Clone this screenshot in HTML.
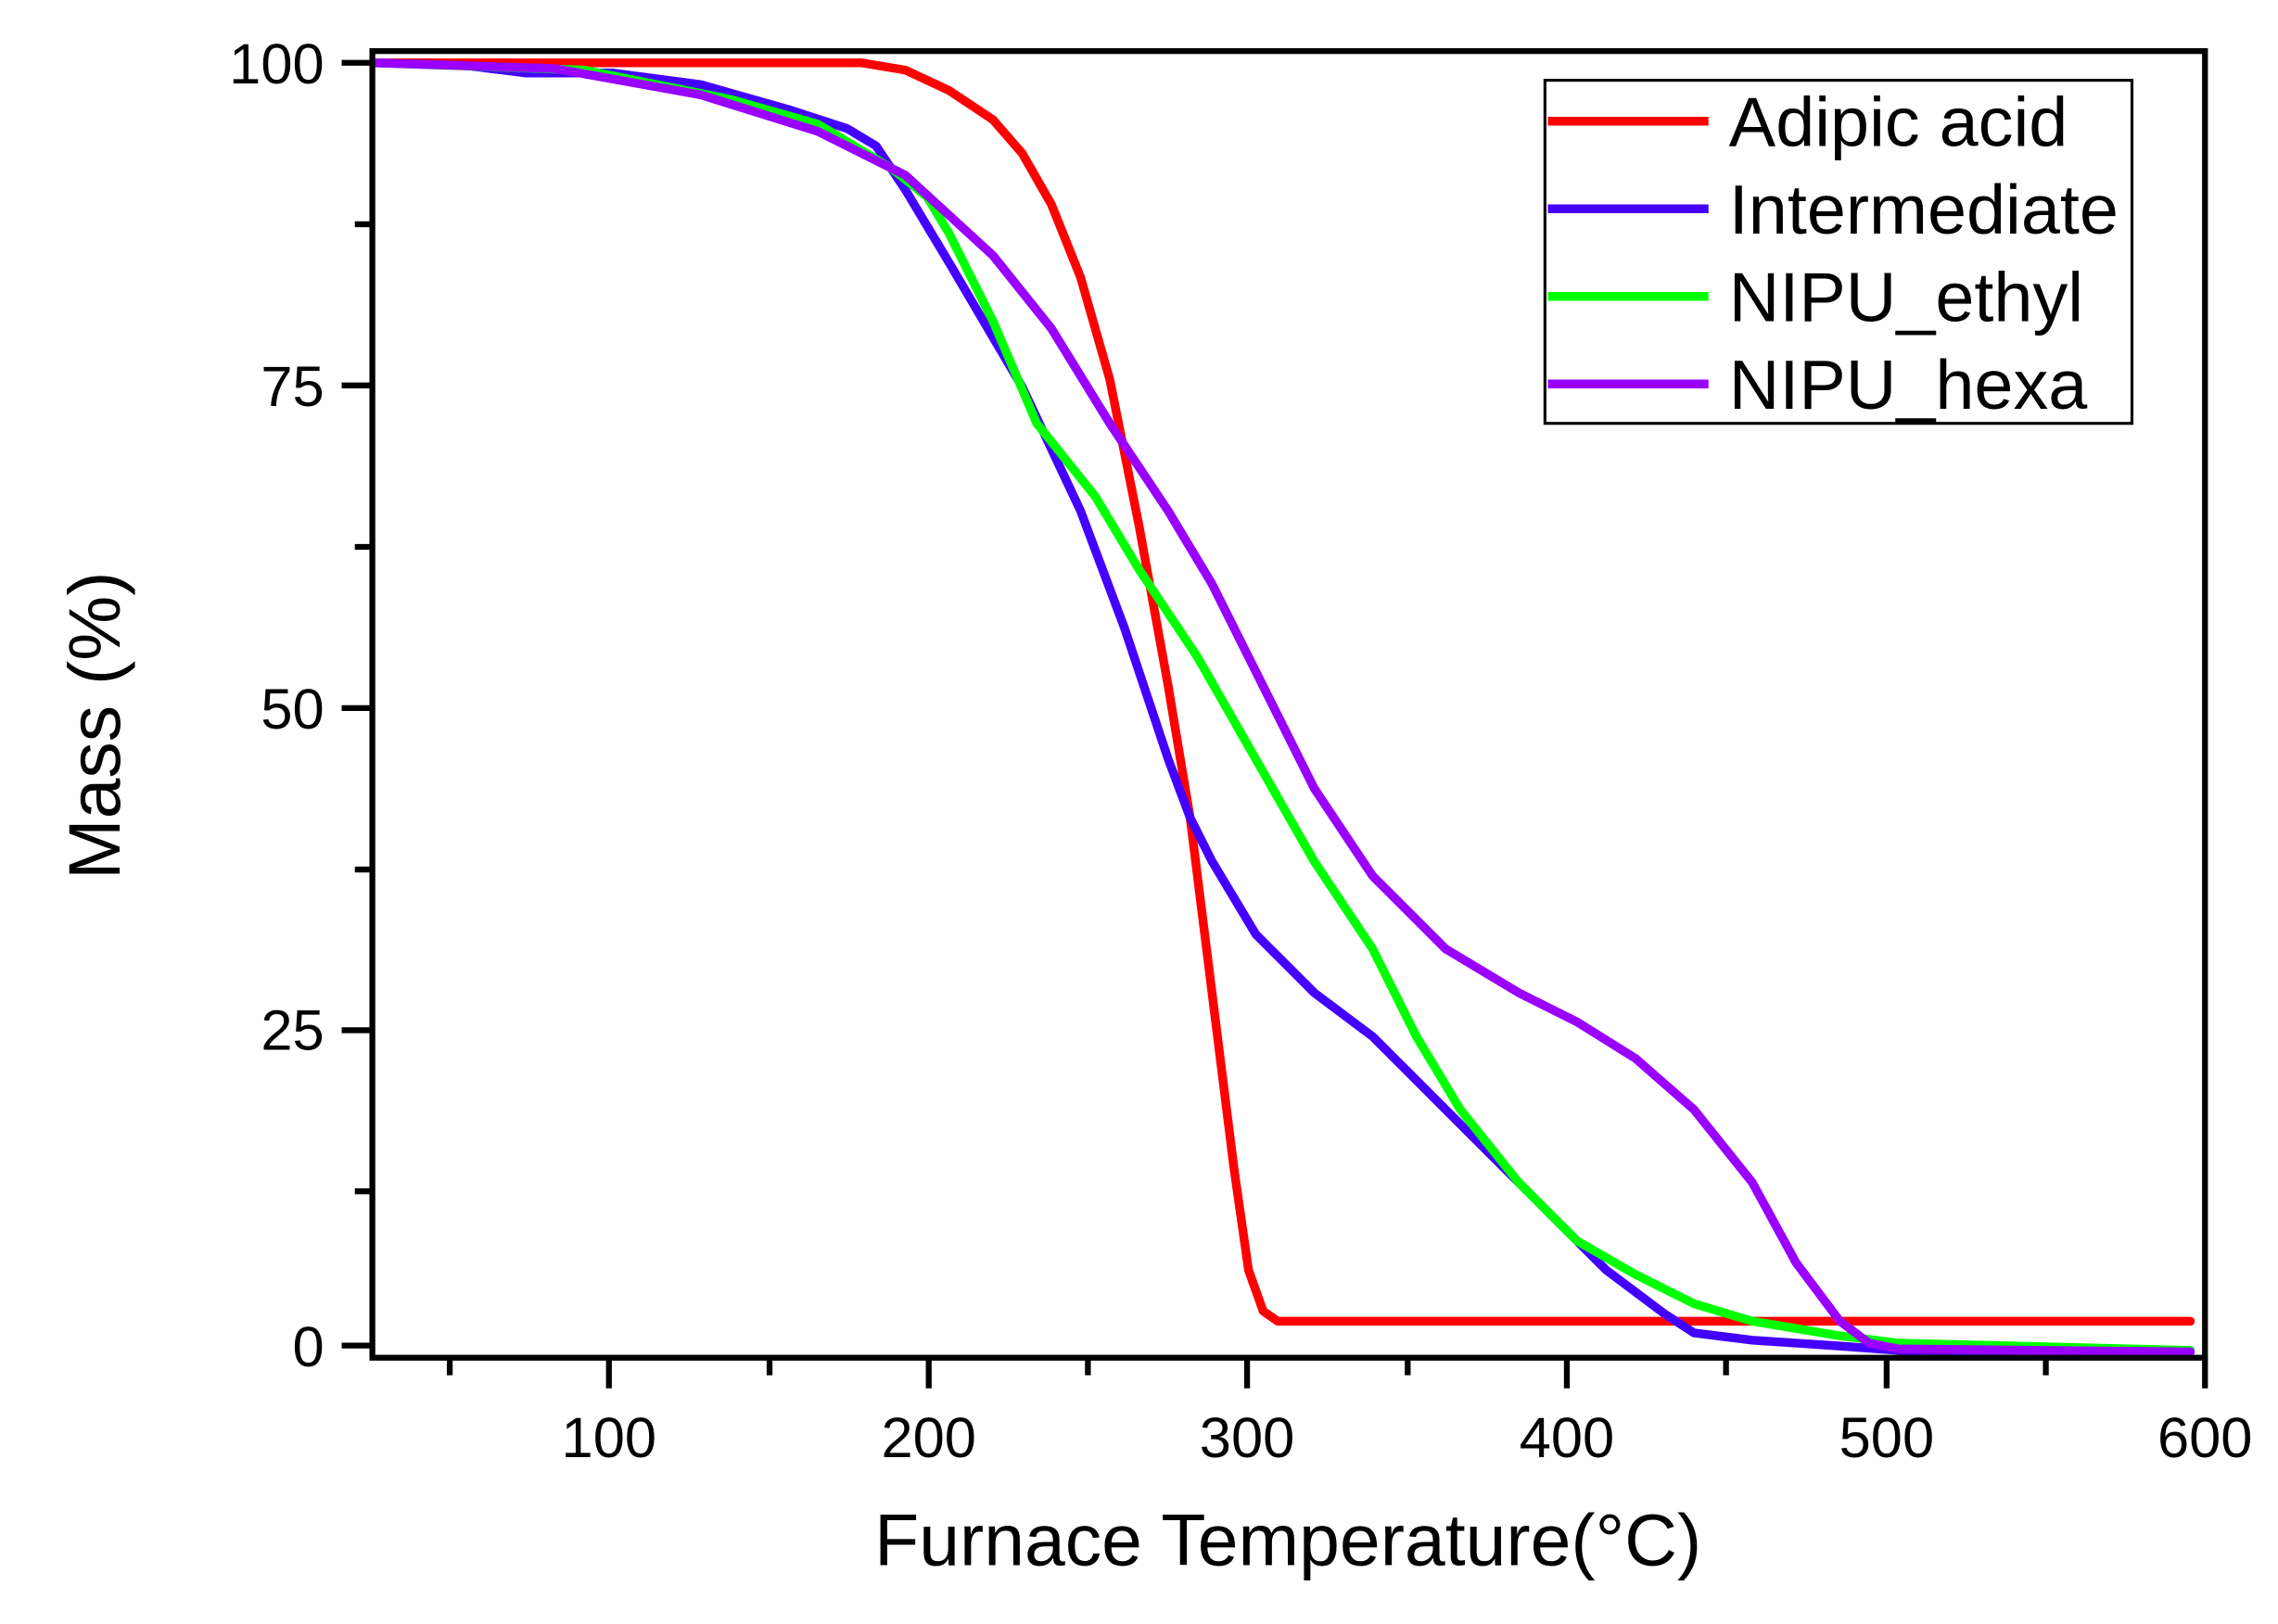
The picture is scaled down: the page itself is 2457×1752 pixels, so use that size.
<!DOCTYPE html>
<html><head><meta charset="utf-8"><style>html,body{margin:0;padding:0;background:#fff}svg{display:block}</style></head>
<body>
<svg width="2457" height="1752" viewBox="0 0 1560 1112.4" preserveAspectRatio="none" xmlns="http://www.w3.org/2000/svg" font-family="Liberation Sans, Arial, sans-serif">
<rect width="1560" height="1112.4" fill="#fff"/>
<g fill="none" stroke-width="6" stroke-linejoin="round" stroke-linecap="round">
<polyline stroke="#ff0000" points="257,43 560,43 590,43 620,48 650,62 680,82 700,105 720,140 740,190 760,260 780,360 800,470 815,560 830,680 845,800 855,870 865,898 875,905 1500,905"/>
<polyline stroke="#4400ff" points="257,43 320,45 360,50 420,50 480,58 540,75 580,88 600,100 620,130 650,180 700,265 740,350 770,430 800,520 815,560 830,590 860,640 900,680 940,710 980,750 1020,790 1060,830 1100,870 1140,900 1160,913 1200,918 1260,922 1300,925 1500,925"/>
<polyline stroke="#00ff00" points="257,43 400,48 500,68 560,85 610,115 635,135 650,160 665,190 680,220 710,290 750,340 780,390 820,450 860,520 900,590 940,650 970,710 1000,760 1040,810 1080,850 1120,873 1160,893 1200,905 1260,915 1300,920 1500,925"/>
<polyline stroke="#9900ff" points="257,43 380,47 480,65 560,90 620,120 680,175 720,225 760,290 800,350 830,400 860,460 900,540 940,600 990,650 1040,680 1080,700 1120,725 1160,760 1200,810 1230,865 1260,905 1280,920 1300,924 1500,926"/>
</g>
<rect x="255" y="35" width="1255" height="895" fill="none" stroke="#000" stroke-width="4"/>
<g stroke="#000" stroke-width="4">
<line x1="234" y1="43" x2="255" y2="43"/><line x1="243" y1="153.6" x2="255" y2="153.6"/>
<line x1="234" y1="264" x2="255" y2="264"/><line x1="243" y1="374.6" x2="255" y2="374.6"/>
<line x1="234" y1="485" x2="255" y2="485"/><line x1="243" y1="595.6" x2="255" y2="595.6"/>
<line x1="234" y1="705.7" x2="255" y2="705.7"/><line x1="243" y1="816" x2="255" y2="816"/>
<line x1="234" y1="921.7" x2="255" y2="921.7"/>
<line x1="308" y1="930" x2="308" y2="942"/><line x1="417" y1="930" x2="417" y2="951"/>
<line x1="527" y1="930" x2="527" y2="942"/><line x1="636" y1="930" x2="636" y2="951"/>
<line x1="745" y1="930" x2="745" y2="942"/><line x1="854" y1="930" x2="854" y2="951"/>
<line x1="964" y1="930" x2="964" y2="942"/><line x1="1073" y1="930" x2="1073" y2="951"/>
<line x1="1182" y1="930" x2="1182" y2="942"/><line x1="1292" y1="930" x2="1292" y2="951"/>
<line x1="1401" y1="930" x2="1401" y2="942"/><line x1="1510" y1="930" x2="1510" y2="951"/>
</g>
<g font-size="39" text-anchor="end" fill="#000">
<text x="222" y="57">100</text><text x="222" y="278">75</text><text x="222" y="499">50</text><text x="222" y="719">25</text><text x="222" y="936">0</text>
</g>
<g font-size="39" text-anchor="middle" fill="#000">
<text x="417" y="998">100</text><text x="636" y="998">200</text><text x="854" y="998">300</text><text x="1073" y="998">400</text><text x="1292" y="998">500</text><text x="1510" y="998">600</text>
</g>
<text x="882" y="1072" font-size="50" text-anchor="middle">Furnace Temperature(°C)</text>
<text transform="translate(82,497) rotate(-90)" font-size="50" text-anchor="middle">Mass (%)</text>
<rect x="1058" y="55" width="402" height="235" fill="#fff" stroke="#000" stroke-width="2"/>
<g stroke-width="6">
<line x1="1060" y1="83" x2="1170" y2="83" stroke="#ff0000"/>
<line x1="1060" y1="143" x2="1170" y2="143" stroke="#4400ff"/>
<line x1="1060" y1="203" x2="1170" y2="203" stroke="#00ff00"/>
<line x1="1060" y1="263" x2="1170" y2="263" stroke="#9900ff"/>
</g>
<g font-size="48" fill="#000">
<text x="1184" y="100">Adipic acid</text><text x="1184" y="160">Intermediate</text><text x="1184" y="220">NIPU_ethyl</text><text x="1184" y="280">NIPU_hexa</text>
</g>
</svg>
</body></html>
